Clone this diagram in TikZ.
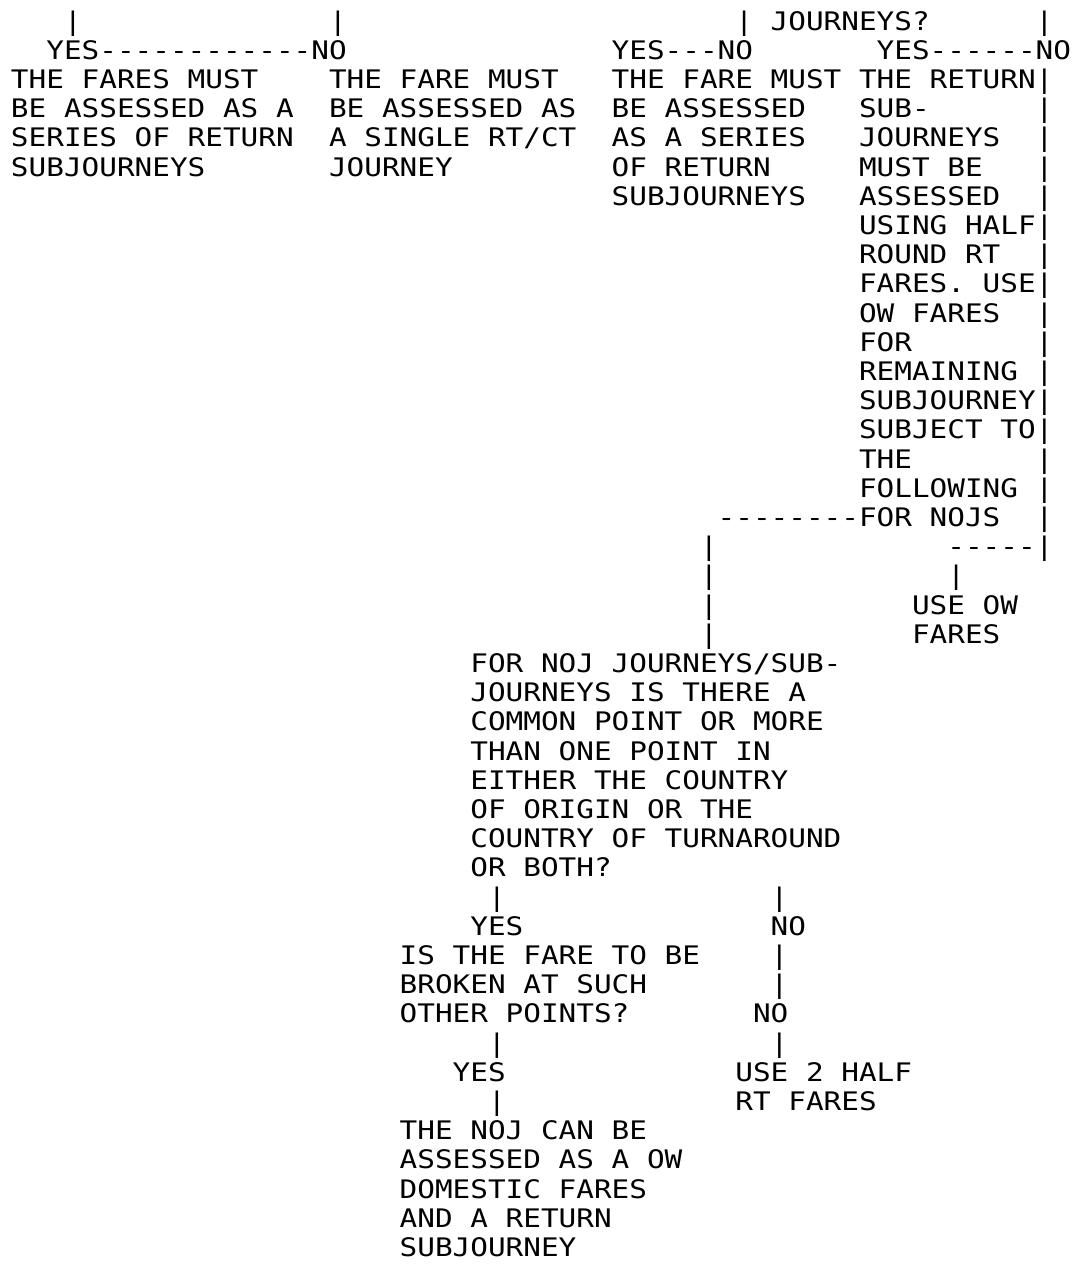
\documentclass[tikz,border=0pt]{standalone}
\usepackage{fontspec}
\newfontfamily\asciifont{DejaVu Sans Mono}[FakeStretch=1.15]
\usetikzlibrary{positioning}

% grid of the character cells
\newcommand{\cw}{13.25pt}
\newcommand{\lh}{21.9pt}
\newcommand{\cell}[4]{\node[ascii] (#1) at ({8.25pt+#2*\cw},{-22.6pt-#3*\lh}) {#4};}
\newcommand{\block}[4]{%
  \foreach \ln [count=\i from 0] in {#4} {%
    \pgfmathtruncatemacro{\rr}{#3+\i}
    \node[ascii] (#1-\i) at ({8.25pt+#2*\cw},{-22.6pt-\rr*\lh}) {\ln};
  }}

\begin{document}
\begin{tikzpicture}[
    ascii/.style={font=\asciifont\fontsize{19.14}{22}\selectfont, anchor=base west, inner sep=0pt, outer sep=0pt}
  ]
  \fill[white] (0,0) rectangle (804pt,-948pt);
  \useasboundingbox (0,0) rectangle (804pt,-948pt);

  % top branches
  \cell{barA}{3}{0}{|}
  \cell{barB}{18}{0}{|}
  \cell{barC}{41}{0}{|}
  \cell{qtail}{43}{0}{JOURNEYS?}
  \cell{barD}{58}{0}{|}
  \cell{ynA}{2}{1}{YES------------NO}
  \cell{ynB}{34}{1}{YES---NO}
  \cell{ynC}{49}{1}{YES------NO}

  % answers under the top branches
  \block{seriesA}{0}{2}{THE FARES MUST,BE ASSESSED AS A,SERIES OF RETURN,SUBJOURNEYS}
  \block{single}{18}{2}{THE FARE MUST,BE ASSESSED AS,A SINGLE RT/CT,JOURNEY}
  \block{seriesB}{34}{2}{THE FARE MUST,BE ASSESSED,AS A SERIES,OF RETURN,SUBJOURNEYS}
  \block{halfrt}{48}{2}{THE RETURN|,SUB-,JOURNEYS,MUST BE,ASSESSED,USING HALF|,ROUND RT,FARES. USE|,OW FARES,FOR,REMAINING,SUBJOURNEY|,SUBJECT TO|,THE,FOLLOWING}
  \foreach \r in {3,4,5,6,8,10,11,12,15,16,17} {
    \cell{side\r}{58}{\r}{|}
  }
  \cell{nojs}{40}{17}{--------FOR NOJS}
  \cell{close}{53}{18}{-----|}
  \cell{owbar}{53}{19}{|}
  \block{useow}{51}{20}{USE OW,FARES}
  \foreach \r in {18,...,21} {
    \cell{down\r}{39}{\r}{|}
  }

  % common point question
  \block{common}{26}{22}{FOR NOJ JOURNEYS/SUB-,JOURNEYS IS THERE A,COMMON POINT OR MORE,THAN ONE POINT IN,EITHER THE COUNTRY,OF ORIGIN OR THE,COUNTRY OF TURNAROUND,OR BOTH?}
  \cell{cyesbar}{27}{30}{|}
  \cell{cnobar}{43}{30}{|}
  \cell{cyes}{26}{31}{YES}
  \cell{cno}{43}{31}{NO}
  \block{broken}{22}{32}{IS THE FARE TO BE,BROKEN AT SUCH,OTHER POINTS?}
  \cell{cnobarB}{43}{32}{|}
  \cell{cnobarC}{43}{33}{|}
  \cell{bno}{42}{34}{NO}
  \cell{byesbar}{27}{35}{|}
  \cell{bnobar}{43}{35}{|}
  \cell{byes}{25}{36}{YES}
  \block{halfrtB}{41}{36}{USE 2 HALF,RT FARES}
  \cell{byesbarB}{27}{37}{|}
  \block{domestic}{22}{38}{THE NOJ CAN BE,ASSESSED AS A OW,DOMESTIC FARES,AND A RETURN,SUBJOURNEY}
\end{tikzpicture}
\end{document}
